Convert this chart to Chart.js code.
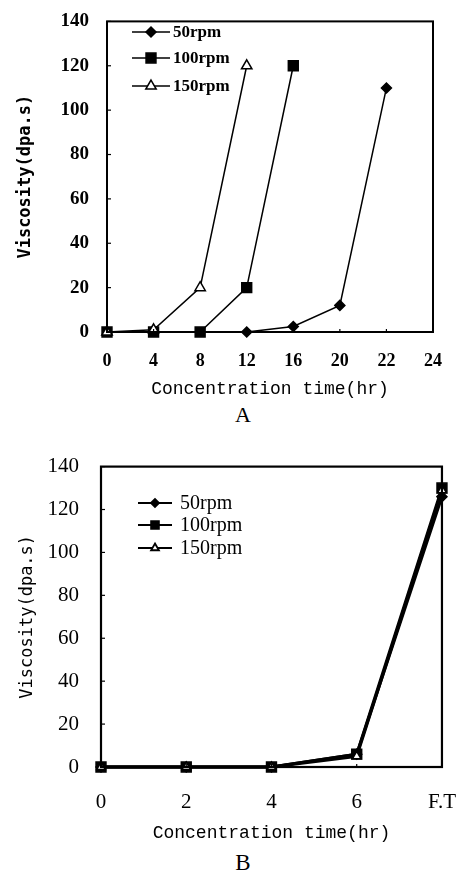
<!DOCTYPE html>
<html><head><meta charset="utf-8">
<script src="https://cdn.jsdelivr.net/npm/chart.js@4"></script>
<style>
body{margin:0;background:#fff;width:471px;height:875px;position:relative;overflow:hidden}
.wrap{position:absolute;left:0;width:471px}
#wa{top:0;height:400px}
#wb{top:440px;height:410px}
.lab{position:absolute;font-family:"Liberation Serif",serif;color:#000;text-align:center;width:40px}
</style></head><body>
<div class="wrap" id="wa"><canvas id="ca" width="471" height="400"></canvas></div>
<div class="wrap" id="wb"><canvas id="cb" width="471" height="410"></canvas></div>
<div class="lab" style="left:223px;top:404px;font-size:22px;line-height:22px">A</div>
<div class="lab" style="left:223px;top:851px;font-size:23px;line-height:23px">B</div>
<script>
// ---- Data: chart A ----
const catsA = ['0','4','8','12','16','20','22','24'];
const rpm50A  = [null, null, null, 0, 2.5, 12, 110, null];
const rpm100A = [0, 0, 0, 20, 120, null, null, null];
const rpm150A = [0, 1, 20, 120, null, null, null, null];
// ---- Data: chart B ----
const catsB = ['0','2','4','6','F.T'];
const rpm50B  = [0, 0, 0, 6, 126];
const rpm100B = [0, 0, 0, 6, 130];
const rpm150B = [0, 0, 0, 5, 129];
const seriesNames = ['50rpm','100rpm','150rpm'];
const yTicks = [0,20,40,60,80,100,120,140];

const framePlugin = {
  id:'frame',
  afterDatasetsDraw(chart, args, opts){
    const {ctx, chartArea:a} = chart;
    ctx.save();
    ctx.strokeStyle='#000';
    ctx.lineWidth=opts.lw||2;
    ctx.strokeRect(a.left, a.top, a.right-a.left, a.bottom-a.top);
    ctx.lineWidth=1.2;
    const ys = chart.scales.y, xs = chart.scales.x;
    ys.ticks.forEach(t=>{
      const p = ys.getPixelForValue(t.value);
      ctx.beginPath(); ctx.moveTo(a.left, p); ctx.lineTo(a.left+4, p); ctx.stroke();
    });
    xs.ticks.forEach((t,i)=>{
      const p = xs.getPixelForTick(i);
      ctx.beginPath(); ctx.moveTo(p, a.bottom); ctx.lineTo(p, a.bottom-3); ctx.stroke();
    });
    ctx.restore();
  }
};

const legendPlugin = {
  id:'lineLegend',
  afterDraw(chart, args, opts){
    if(!opts || !opts.rows) return;
    const ctx = chart.ctx;
    ctx.save();
    chart.data.datasets.forEach((ds,i)=>{
      const y = opts.rows[i];
      ctx.strokeStyle='#000';
      ctx.lineWidth = opts.lw;
      ctx.beginPath(); ctx.moveTo(opts.x0, y); ctx.lineTo(opts.x1, y); ctx.stroke();
      ctx.fillStyle = ds.pointBackgroundColor;
      ctx.strokeStyle = '#000';
      Chart.helpers.drawPoint(ctx, {pointStyle: ds.pointStyle, radius: opts.sizes[i], rotation:0, borderWidth: 1.5}, (opts.x0+opts.x1)/2, y);
      ctx.fillStyle='#000';
      ctx.font = opts.font;
      ctx.textBaseline='middle';
      ctx.textAlign='left';
      ctx.fillText(ds.label, opts.tx, y+1);
    });
    ctx.restore();
  }
};

function makeDatasets(vals, lw, sizes){
  const styles = ['rectRot','rect','triangle'];
  const fills = ['#000','#000','#fff'];
  const orders = [1,2,0];
  return vals.map((v,i)=>({
    label: seriesNames[i], data: v,
    borderColor:'#000', borderWidth: lw,
    pointStyle: styles[i], pointRadius: sizes[i], pointHoverRadius: sizes[i],
    pointBackgroundColor: fills[i], pointBorderColor:'#000', pointBorderWidth: 1.5,
    tension:0, clip:false, order: orders[i], fill:false
  }));
}

function makeChart(id, cats, vals, c){
  return new Chart(document.getElementById(id), {
    type:'line',
    data:{labels:cats, datasets: makeDatasets(vals, c.lw, c.sizes)},
    options:{
      responsive:false, animation:false, devicePixelRatio:1,
      layout:{padding:{top:c.top, right:c.right, left:0, bottom:0}},
      plugins:{legend:{display:false}, tooltip:{enabled:false},
        frame:{lw:c.frameLw}, lineLegend:c.legend},
      scales:{
        x:{type:'category', offset:false,
          grid:{display:false}, border:{display:false},
          ticks:{color:'#000', padding:c.xPad, font:c.xTickFont, maxRotation:0, autoSkip:false},
          title:{display:true, text:'Concentration time(hr)', color:'#000',
            font:{family:'"Liberation Mono", monospace', size:18}, padding:{top:0,bottom:c.xTitlePad}},
          afterFit(s){ s.height = c.xH; }
        },
        y:{min:0, max:140,
          afterBuildTicks(s){ s.ticks = yTicks.map(v=>({value:v})); },
          grid:{display:false}, border:{display:false},
          ticks:{color:'#000', padding:c.yPad, font:c.yTickFont},
          title:{display:true, text:'Viscosity(dpa.s)', color:'#000',
            font:{family:'"DejaVu Sans Mono", monospace', size:17, weight:c.yTitleWeight}, padding:{top:c.yTitlePad, bottom:0}},
          afterFit(s){ s.width = c.yW; }
        }
      }
    },
    plugins:[framePlugin, legendPlugin]
  });
}

makeChart('ca', catsA, [rpm50A, rpm100A, rpm150A], {
  lw:1.5, sizes:[5,7,6], top:10, right:38, xH:68, yW:107, frameLw:2,
  xPad:11, yPad:10, xTitlePad:0, yTitlePad:15, yTitleWeight:'bold',
  xTickFont:{family:'"Liberation Serif", serif', size:18, weight:'bold'},
  yTickFont:{family:'"Liberation Serif", serif', size:19, weight:'bold'},
  legend:{rows:[32,58,86], x0:132, x1:170, tx:173, lw:1.5, sizes:[5,7,6], font:'bold 17px "Liberation Serif", serif'}
});
makeChart('cb', catsB, [rpm50B, rpm100B, rpm150B], {
  lw:3, sizes:[5,7,5], top:13, right:27, xH:83, yW:101, frameLw:2.2,
  xPad:15, yPad:14, xTitlePad:6, yTitlePad:17, yTitleWeight:'normal',
  xTickFont:{family:'"Liberation Serif", serif', size:21},
  yTickFont:{family:'"Liberation Serif", serif', size:21},
  legend:{rows:[63,85,108], x0:138, x1:172, tx:180, lw:1.8, sizes:[4,5.5,4.5], font:'20px "Liberation Serif", serif'}
});
</script>
</body></html>
